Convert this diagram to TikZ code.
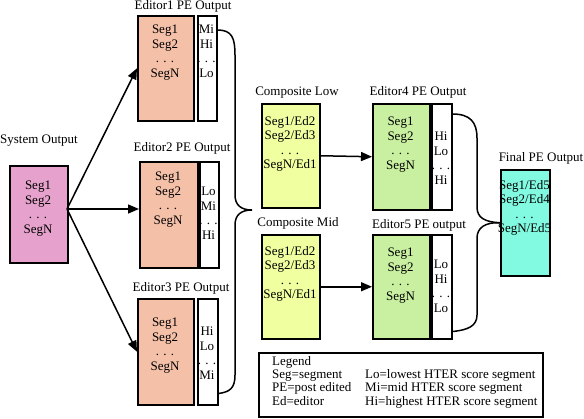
\documentclass[tikz,border=0pt]{standalone}
\usepackage{fontspec}
\setmainfont{Liberation Serif}
\usetikzlibrary{arrows.meta}
\definecolor{sysfill}{RGB}{230,162,204}
\definecolor{edfill}{RGB}{245,192,168}
\definecolor{compfill}{RGB}{240,255,160}
\definecolor{efill}{RGB}{200,240,160}
\definecolor{finfill}{RGB}{130,250,225}
\begin{document}
\begin{tikzpicture}[x=1pt,y=-1pt,
  box/.style={draw, line width=1.5pt, inner sep=0pt, anchor=north west},
  txt/.style={align=center, inner sep=0pt, anchor=north, font=\fontsize{13}{14.5}\selectfont},
  lab/.style={inner sep=0pt, font=\fontsize{13}{14.5}\selectfont},
  leg/.style={align=left, inner sep=0pt, anchor=north west, font=\fontsize{13}{13.3}\selectfont},
  arr/.style={line width=1.5pt, -{Triangle[length=11pt,width=9pt]}},
  brace/.style={line width=1.5pt}]
\useasboundingbox (0,0) rectangle (584,418);

% boxes
\node[box, fill=sysfill, minimum width=58pt, minimum height=97pt] (sys) at (9,165) {};
\node[box, fill=edfill, minimum width=56pt, minimum height=105pt] (e1) at (137,15) {};
\node[box, fill=white, minimum width=19pt, minimum height=105pt] (e1s) at (197,15) {};
\node[box, fill=edfill, minimum width=58pt, minimum height=106pt] (e2) at (139,161) {};
\node[box, fill=white, minimum width=19pt, minimum height=106pt] (e2s) at (199,161) {};
\node[box, fill=edfill, minimum width=56pt, minimum height=106pt] (e3) at (137,298) {};
\node[box, fill=white, minimum width=20pt, minimum height=106pt] (e3s) at (197,298) {};
\node[box, fill=compfill, minimum width=58pt, minimum height=104pt] (cl) at (261,103) {};
\node[box, fill=compfill, minimum width=58pt, minimum height=104pt] (cm) at (261,234) {};
\node[box, fill=efill, minimum width=57pt, minimum height=106pt] (e4) at (372,103) {};
\node[box, fill=white, minimum width=20pt, minimum height=106pt] (e4s) at (431,103) {};
\node[box, fill=efill, minimum width=57pt, minimum height=104pt] (e5) at (372,234) {};
\node[box, fill=white, minimum width=20pt, minimum height=104pt] (e5s) at (431,234) {};
\node[box, fill=finfill, minimum width=49pt, minimum height=106pt] (fin) at (500,169) {};
\node[box, fill=white, minimum width=284pt, minimum height=64pt] (legbox) at (258,352) {};

% box texts
\node[txt] (systxt) at (38,181) {Seg1\\Seg2\\. . .\\SegN};
\node[txt] (e1txt) at (165,25) {Seg1\\Seg2\\. . .\\SegN};
\node[txt] (e1stxt) at (206.5,25) {Mi\\Hi\\. . .\\Lo};
\node[txt] (e2txt) at (168,172) {Seg1\\Seg2\\. . .\\SegN};
\node[txt] (e2stxt) at (208.5,187) {Lo\\Mi\\. . .\\Hi};
\node[txt] (e3txt) at (165,318) {Seg1\\Seg2\\. . .\\SegN};
\node[txt] (e3stxt) at (207,327) {Hi\\Lo\\. . .\\Mi};
\node[txt] (cltxt) at (290,116) {Seg1/Ed2\\Seg2/Ed3\\. . .\\SegN/Ed1};
\node[txt] (cmtxt) at (290,246) {Seg1/Ed2\\Seg2/Ed3\\. . .\\SegN/Ed1};
\node[txt] (e4txt) at (400.5,117) {Seg1\\Seg2\\. . .\\SegN};
\node[txt] (e4stxt) at (441,132) {Hi\\Lo\\. . .\\Hi};
\node[txt] (e5txt) at (400.5,248) {Seg1\\Seg2\\. . .\\SegN};
\node[txt] (e5stxt) at (441,260) {Lo\\Hi\\. . .\\Lo};
\node[txt] (fintxt) at (524.5,180) {Seg1/Ed5\\Seg2/Ed4\\. . .\\SegN/Ed5};

% labels
\node[lab] (syslab) at (39,141) {System Output};
\node[lab] (e1lab) at (183,6) {Editor1 PE Output};
\node[lab] (e2lab) at (182,148) {Editor2 PE Output};
\node[lab] (e3lab) at (181,288) {Editor3 PE Output};
\node[lab] (cllab) at (297,93) {Composite Low};
\node[lab] (cmlab) at (298,223) {Composite Mid};
\node[lab] (e4lab) at (418,92) {Editor4 PE Output};
\node[lab] (e5lab) at (419,225) {Editor5 PE output};
\node[lab] (finlab) at (541,158) {Final PE Output};

% legend
\node[leg] (legl) at (272,356) {Legend\\Seg=segment\\PE=post edited\\Ed=editor};
\node[leg] (legr) at (365,369.3) {Lo=lowest HTER score segment\\Mi=mid HTER score segment\\Hi=highest HTER score segment};

% arrows
\coordinate (s0) at (67,209);
\draw[arr] (s0) -- (e1.west);
\draw[arr] (s0) -- (e2.west |- s0);
\draw[arr] (s0) -- (e3.west);
\draw[arr] (cl.east) -- (e4.west);
\draw[arr] (cm.east) -- (e5.west);

% brace 1
\coordinate (b1) at (252,210);
\draw[brace] ([yshift=-15pt]e1s.north east) .. controls (232,30) and (235,38) .. (235,55)
  -- (235,195) .. controls (235,205) and (241,210) .. (b1);
\draw[brace] (b1) .. controls (241,210) and (235,215) .. (235,225)
  -- (235,375) .. controls (235,388) and (230,392) .. ([yshift=12pt]e3s.south east);

% brace 2
\draw[brace] ([yshift=-11pt]e4s.north east) .. controls (470,114) and (477,122) .. (477,138)
  -- (477,207) .. controls (477,218) and (485,222) .. (fin.west);
\draw[brace] (fin.west) .. controls (485,222) and (477,228) .. (477,238)
  -- (477,315) .. controls (477,326) and (468,330) .. ([yshift=8pt]e5s.south east);
\end{tikzpicture}
\end{document}
